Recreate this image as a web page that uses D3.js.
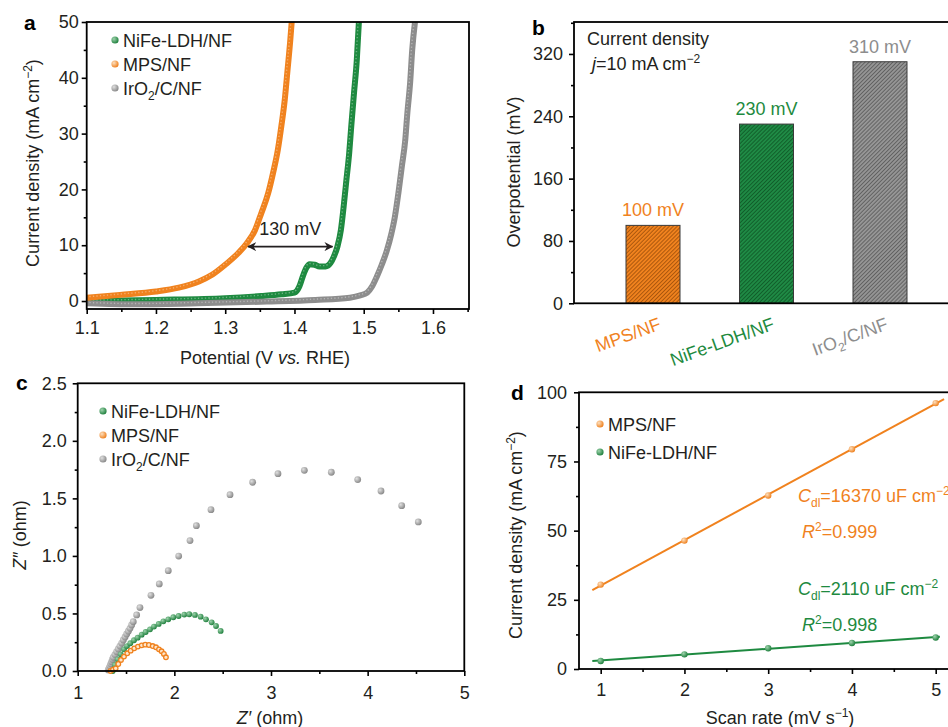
<!DOCTYPE html>
<html>
<head>
<meta charset="utf-8">
<script src="https://cdn.jsdelivr.net/npm/d3@7"></script>
<style>
body { margin: 0; background: #fff; }
svg text { font-family: Arial, "Liberation Sans", sans-serif; fill: #231f20; }
</style>
</head>
<body>
<div id="chart"></div>
<script>
var orange = "#f0821e", green = "#1e8a40", grey = "#8d8d8d";
var fs = "18px", fsSmall = "12px";

// ---- panel a : polarization curves (V vs RHE, mA cm-2)
var mpsLsvV = [1.100, 1.148, 1.200, 1.233, 1.262, 1.281, 1.300, 1.319, 1.331, 1.343, 1.352, 1.362, 1.369, 1.376, 1.381, 1.386, 1.390, 1.394, 1.396];
var mpsLsvJ = [0.6, 1.1, 1.7, 2.4, 3.5, 4.7, 6.5, 8.6, 10.3, 12.7, 15.7, 19.3, 22.9, 27.1, 31.3, 36.1, 41.4, 46.8, 50];
var nifeLsvV = [1.100, 1.200, 1.300, 1.352, 1.381, 1.400, 1.407, 1.412, 1.417, 1.422, 1.429, 1.436, 1.445, 1.452, 1.457, 1.462, 1.467, 1.471, 1.475, 1.479, 1.482, 1.486, 1.490, 1.493];
var nifeLsvJ = [0.0, 0.2, 0.5, 0.9, 1.2, 1.5, 2.6, 4.4, 5.9, 6.6, 6.5, 6.2, 6.2, 6.8, 8.0, 9.75, 12.7, 16.9, 21.7, 26.5, 31.3, 37.3, 43.2, 50];
var iroLsvV = [1.100, 1.170, 1.260, 1.360, 1.430, 1.480, 1.495, 1.505, 1.512, 1.519, 1.526, 1.533, 1.540, 1.545, 1.550, 1.555, 1.560, 1.563, 1.567, 1.570, 1.574];
var iroLsvJ = [-0.4, -0.6, -0.4, -0.1, 0.2, 0.6, 1.0, 1.5, 2.6, 4.4, 6.5, 8.9, 12.1, 15.1, 19.3, 24.1, 28.9, 33.7, 39.1, 45.0, 50];
var gapV = [1.333, 1.455], gapJ = 9.75, gapLabel = "130 mV";

// ---- panel b : overpotential at 10 mA cm-2
var catalysts = ["MPS/NF", "NiFe-LDH/NF", "IrO2/C/NF"];
var overpotential = [100, 230, 310];

// ---- panel c : Nyquist plots (ohm)
var iroZre = [1.316, 1.325, 1.334, 1.342, 1.351, 1.360, 1.368, 1.385, 1.403, 1.420, 1.437, 1.455, 1.472, 1.490, 1.507, 1.524, 1.541, 1.558, 1.575, 1.610, 1.644, 1.758, 1.844, 1.937, 2.045, 2.162, 2.228, 2.379, 2.576, 2.810, 3.072, 3.345, 3.624, 3.897, 4.138, 4.352, 4.524];
var iroZim = [0.009, 0.025, 0.043, 0.062, 0.081, 0.100, 0.119, 0.143, 0.168, 0.192, 0.217, 0.243, 0.270, 0.296, 0.322, 0.346, 0.371, 0.400, 0.429, 0.487, 0.551, 0.658, 0.757, 0.872, 0.999, 1.133, 1.263, 1.402, 1.532, 1.640, 1.715, 1.744, 1.727, 1.663, 1.564, 1.437, 1.295];
var nifeZre = [1.362, 1.386, 1.414, 1.445, 1.479, 1.510, 1.544, 1.582, 1.620, 1.662, 1.703, 1.748, 1.789, 1.838, 1.886, 1.937, 1.989, 2.044, 2.103, 2.154, 2.213, 2.272, 2.327, 2.386, 2.431, 2.479];
var nifeZim = [0.000, 0.052, 0.101, 0.145, 0.188, 0.217, 0.241, 0.267, 0.290, 0.316, 0.339, 0.362, 0.386, 0.409, 0.432, 0.449, 0.467, 0.478, 0.490, 0.493, 0.487, 0.472, 0.449, 0.423, 0.391, 0.348];
var mpsZre = [1.340, 1.365, 1.393, 1.420, 1.448, 1.479, 1.513, 1.548, 1.585, 1.623, 1.662, 1.699, 1.737, 1.776, 1.810, 1.841, 1.868, 1.892, 1.913];
var mpsZim = [0.000, 0.012, 0.023, 0.061, 0.096, 0.125, 0.154, 0.177, 0.197, 0.212, 0.223, 0.229, 0.226, 0.217, 0.206, 0.188, 0.171, 0.148, 0.119];

// ---- panel d : double layer capacitance
var scanRate = [1, 2, 3, 4, 5];
var mpsCdlJ = [30.5, 46.4, 62.7, 79.4, 96.1];
var nifeCdlJ = [2.9, 5.3, 7.5, 9.4, 11.4];

var svg = d3.select("#chart").append("svg")
    .attr("width", 948)
    .attr("height", 727);
var defs = svg.append("defs");

// sphere-like marker fills
function sphere(id, light, base) {
    var gr = defs.append("radialGradient").attr("id", id)
        .attr("cx", "35%").attr("cy", "35%").attr("r", "70%");
    gr.append("stop").attr("offset", "0%").attr("stop-color", light);
    gr.append("stop").attr("offset", "100%").attr("stop-color", base);
}
sphere("sph_grey", "#e0e0e0", "#858585");
sphere("sph_green", "#9fd3ad", "#1a7d39");
sphere("sph_orange", "#fde0bf", "#ee7d18");

// hatched bar fills
function hatch(id, base, lineCol) {
    var p = defs.append("pattern").attr("id", id)
        .attr("patternUnits", "userSpaceOnUse")
        .attr("width", 2.8).attr("height", 2.8)
        .attr("patternTransform", "rotate(45)");
    p.append("rect").attr("width", 2.8).attr("height", 2.8).attr("fill", base);
    p.append("line").attr("x1", 0).attr("y1", 0).attr("x2", 0).attr("y2", 2.8)
        .attr("stroke", lineCol).attr("stroke-width", 1.3);
}
hatch("hatch_orange", "#f0821e", "#8a4205");
hatch("hatch_green", "#1f8a45", "#0a4a1d");
hatch("hatch_grey", "#959595", "#4a4a4a");

defs.append("marker").attr("id", "arrow")
    .attr("viewBox", "0 0 10 10").attr("refX", 9).attr("refY", 5)
    .attr("markerWidth", 9).attr("markerHeight", 9)
    .attr("markerUnits", "userSpaceOnUse")
    .attr("orient", "auto-start-reverse")
  .append("path").attr("d", "M0,0 L10,5 L0,10 L3,5 Z").attr("fill", "#231f20");

// axis helper: major ticks with labels + minor ticks, outward
function addAxis(axisFn, scale, major, minor, fmt, transform, pad) {
    var a = svg.append("g").attr("transform", transform)
        .call(axisFn(scale).tickValues(major).tickFormat(fmt).tickSize(5).tickSizeOuter(0).tickPadding(pad));
    a.select(".domain").remove();
    a.selectAll("text").style("font-size", fs);
    a.selectAll("line").attr("stroke", "#000").attr("stroke-width", 1.6);
    var m = svg.append("g").attr("transform", transform)
        .call(axisFn(scale).tickValues(minor).tickFormat("").tickSize(3).tickSizeOuter(0));
    m.select(".domain").remove();
    m.selectAll("line").attr("stroke", "#000").attr("stroke-width", 1.6);
}

function frame(l, t, r, b) {
    svg.append("rect").attr("x", l).attr("y", t).attr("width", r - l).attr("height", b - t)
        .attr("fill", "none").attr("stroke", "#000").attr("stroke-width", 1.8);
}

function panelLetter(txt, x, y) {
    svg.append("text").attr("x", x).attr("y", y).text(txt)
        .style("font-size", "21px").style("font-weight", "bold").style("fill", "#000");
}

// writes "IrO2/C/NF" with a subscript 2, otherwise plain text
function catText(t, label) {
    if (label === "IrO2/C/NF") {
        t.append("tspan").text("IrO");
        t.append("tspan").attr("dy", 5).style("font-size", fsSmall).text("2");
        t.append("tspan").attr("dy", -5).text("/C/NF");
    } else {
        t.text(label);
    }
}

function legendItem(x, y, fill, label) {
    svg.append("circle").attr("cx", x).attr("cy", y).attr("r", 3.6).attr("fill", fill);
    var t = svg.append("text").attr("x", x + 8).attr("y", y + 6.5).style("font-size", fs);
    catText(t, label);
}

// ================= panel a =================
var aL = 86.7, aR = 469, aT = 22, aB = 309;
var xa = d3.scaleLinear().domain([1.1, 1.652]).range([aL, aR]);
var ya = d3.scaleLinear().domain([-1.43, 50]).range([aB, aT]);

defs.append("clipPath").attr("id", "clip_a")
  .append("rect").attr("x", aL).attr("y", aT).attr("width", aR - aL).attr("height", aB - aT);

var lineA = d3.line().x(function(d) { return xa(d[0]); }).y(function(d) { return ya(d[1]); })
    .curve(d3.curveMonotoneX);
var curvesA = [
    {v: nifeLsvV, j: nifeLsvJ, c: green},
    {v: iroLsvV, j: iroLsvJ, c: grey},
    {v: mpsLsvV, j: mpsLsvJ, c: orange}
];
var ga = svg.append("g").attr("clip-path", "url(#clip_a)");
curvesA.forEach(function(s) {
    var pts = d3.zip(s.v, s.j);
    ga.append("path").datum(pts).attr("d", lineA)
        .attr("fill", "none").attr("stroke", s.c).attr("stroke-width", 6)
        .attr("stroke-linecap", "round").attr("stroke-linejoin", "round");
    ga.append("path").datum(pts).attr("d", lineA)
        .attr("fill", "none").attr("stroke", "#fff").attr("stroke-opacity", 0.35)
        .attr("stroke-width", 1.4).attr("stroke-dasharray", "1.3,2.2")
        .attr("transform", "translate(-0.8,-0.8)");
});

svg.append("line")
    .attr("x1", xa(gapV[0])).attr("x2", xa(gapV[1]))
    .attr("y1", ya(gapJ)).attr("y2", ya(gapJ))
    .attr("stroke", "#231f20").attr("stroke-width", 1.6)
    .attr("marker-start", "url(#arrow)").attr("marker-end", "url(#arrow)");
svg.append("text").attr("x", xa((gapV[0] + gapV[1]) / 2)).attr("y", ya(13) + 6.5)
    .attr("text-anchor", "middle").style("font-size", fs)
    .text(gapLabel);

frame(aL, aT, aR, aB);
addAxis(d3.axisBottom, xa, [1.1, 1.2, 1.3, 1.4, 1.5, 1.6], [1.15, 1.25, 1.35, 1.45, 1.55, 1.65], d3.format(".1f"), "translate(0," + aB + ")", 7);
addAxis(d3.axisLeft, ya, [0, 10, 20, 30, 40, 50], [5, 15, 25, 35, 45], d3.format("d"), "translate(" + aL + ",0)", 3);

legendItem(115, 40, "url(#sph_green)", "NiFe-LDH/NF");
legendItem(115, 64, "url(#sph_orange)", "MPS/NF");
legendItem(115, 88, "url(#sph_grey)", "IrO2/C/NF");

var tya = svg.append("text").attr("transform", "translate(38.5,163) rotate(-90)")
    .attr("text-anchor", "middle").style("font-size", fs);
tya.append("tspan").text("Current density (mA cm");
tya.append("tspan").attr("dy", -7).style("font-size", fsSmall).text("\u22122");
tya.append("tspan").attr("dy", 7).text(")");
var txa = svg.append("text").attr("x", 265).attr("y", 363.5).attr("text-anchor", "middle").style("font-size", fs);
txa.append("tspan").text("Potential (V ");
txa.append("tspan").style("font-style", "italic").text("vs.");
txa.append("tspan").text(" RHE)");
panelLetter("a", 24, 30);

// ================= panel b =================
var bL = 574, bR = 960, bT = 22, bB = 303.3;
var xb = d3.scalePoint().domain(catalysts).range([653, 880]);
var yb = d3.scaleLinear().domain([0, 361]).range([bB, bT]);
var barFill = ["url(#hatch_orange)", "url(#hatch_green)", "url(#hatch_grey)"];
var barText = [orange, green, grey];
var barW = 54;

svg.selectAll(".bar_b")
    .data(overpotential)
  .enter().append("rect")
    .attr("class", "bar_b")
    .attr("x", function(d, i) { return xb(catalysts[i]) - barW / 2; })
    .attr("y", function(d) { return yb(d); })
    .attr("width", barW)
    .attr("height", function(d) { return bB - yb(d); })
    .attr("fill", function(d, i) { return barFill[i]; })
    .attr("stroke", "#3a3a3a").attr("stroke-width", 1);

svg.selectAll(".val_b")
    .data(overpotential)
  .enter().append("text")
    .attr("x", function(d, i) { return xb(catalysts[i]); })
    .attr("y", function(d) { return yb(d) - 9; })
    .attr("text-anchor", "middle")
    .style("font-size", fs)
    .style("fill", function(d, i) { return barText[i]; })
    .text(function(d) { return d + " mV"; });

catalysts.forEach(function(c, i) {
    var t = svg.append("text")
        .attr("transform", "translate(" + (xb(c) + 9) + ",329) rotate(-20)")
        .attr("text-anchor", "end").style("font-size", fs).style("fill", barText[i]);
    catText(t, c);
});

frame(bL, bT, bR, bB);
addAxis(d3.axisLeft, yb, [0, 80, 160, 240, 320], [40, 120, 200, 280, 360], d3.format("d"), "translate(" + bL + ",0)", 6);

svg.append("text").attr("x", 587).attr("y", 44.5).style("font-size", fs).text("Current density");
var tj = svg.append("text").attr("x", 592).attr("y", 69.5).style("font-size", fs);
tj.append("tspan").style("font-style", "italic").text("j");
tj.append("tspan").text("=10 mA cm");
tj.append("tspan").attr("dy", -7).style("font-size", fsSmall).text("\u22122");
svg.append("text").attr("transform", "translate(519.5,172) rotate(-90)")
    .attr("text-anchor", "middle").style("font-size", fs).text("Overpotential (mV)");
panelLetter("b", 532, 35);

// ================= panel c =================
var cL = 77.7, cR = 464.3, cT = 383.3, cB = 671;
var xc = d3.scaleLinear().domain([1, 5]).range([cL, cR]);
var yc = d3.scaleLinear().domain([0, 2.5]).range([cB, cT]);

var seriesC = [
    {x: iroZre, y: iroZim, fill: "url(#sph_grey)", r: 3.4, stroke: "none"},
    {x: nifeZre, y: nifeZim, fill: "url(#sph_green)", r: 2.9, stroke: "none"},
    {x: mpsZre, y: mpsZim, fill: "#fde6cc", r: 2.3, stroke: orange}
];
seriesC.forEach(function(s, k) {
    svg.selectAll(".pt_c" + k)
        .data(d3.zip(s.x, s.y))
      .enter().append("circle")
        .attr("class", "pt_c" + k)
        .attr("cx", function(d) { return xc(d[0]); })
        .attr("cy", function(d) { return yc(d[1]); })
        .attr("r", s.r)
        .attr("fill", s.fill)
        .attr("stroke", s.stroke).attr("stroke-width", 1.3);
});

frame(cL, cT, cR, cB);
addAxis(d3.axisBottom, xc, [1, 2, 3, 4, 5], [1.5, 2.5, 3.5, 4.5], d3.format("d"), "translate(0," + cB + ")", 10);
addAxis(d3.axisLeft, yc, [0, 0.5, 1, 1.5, 2, 2.5], [0.25, 0.75, 1.25, 1.75, 2.25], d3.format(".1f"), "translate(" + cL + ",0)", 6);

legendItem(103, 411, "url(#sph_green)", "NiFe-LDH/NF");
legendItem(103, 435, "url(#sph_orange)", "MPS/NF");
legendItem(103, 459, "url(#sph_grey)", "IrO2/C/NF");

var tyc = svg.append("text").attr("transform", "translate(25.5,535) rotate(-90)")
    .attr("text-anchor", "middle").style("font-size", fs);
tyc.append("tspan").style("font-style", "italic").text("Z\u2033");
tyc.append("tspan").text(" (ohm)");
var txc = svg.append("text").attr("x", 270).attr("y", 723.5).attr("text-anchor", "middle").style("font-size", fs);
txc.append("tspan").style("font-style", "italic").text("Z\u2032");
txc.append("tspan").text(" (ohm)");
panelLetter("c", 16, 390);

// ================= panel d =================
var dL = 579, dR = 960, dT = 392.3, dB = 669;
var xd = d3.scaleLinear().domain([0.741, 5.244]).range([dL, dL + (5.244 - 0.741) * 83.75]);
var yd = d3.scaleLinear().domain([0, 100]).range([dB, dT]);

defs.append("clipPath").attr("id", "clip_d")
  .append("rect").attr("x", dL).attr("y", dT).attr("width", dR - dL).attr("height", dB - dT);

function linFit(xs, ys) {
    var mx = d3.mean(xs), my = d3.mean(ys);
    var sxy = d3.sum(xs, function(x, i) { return (x - mx) * (ys[i] - my); });
    var sxx = d3.sum(xs, function(x) { return (x - mx) * (x - mx); });
    var k = sxy / sxx;
    return {k: k, b: my - k * mx};
}

var seriesD = [
    {y: mpsCdlJ, c: orange, fill: "url(#sph_orange)", x0: 0.9, x1: 5.1},
    {y: nifeCdlJ, c: green, fill: "url(#sph_green)", x0: 0.9, x1: 5.05}
];
var gd = svg.append("g").attr("clip-path", "url(#clip_d)");
seriesD.forEach(function(s, k) {
    var f = linFit(scanRate, s.y);
    gd.append("line")
        .attr("x1", xd(s.x0)).attr("y1", yd(f.k * s.x0 + f.b))
        .attr("x2", xd(s.x1)).attr("y2", yd(f.k * s.x1 + f.b))
        .attr("stroke", s.c).attr("stroke-width", 2);
    gd.selectAll(".pt_d" + k)
        .data(scanRate)
      .enter().append("circle")
        .attr("class", "pt_d" + k)
        .attr("cx", function(d) { return xd(d); })
        .attr("cy", function(d, i) { return yd(s.y[i]); })
        .attr("r", 3.2)
        .attr("fill", s.fill);
});

frame(dL, dT, dR, dB);
addAxis(d3.axisBottom, xd, [1, 2, 3, 4, 5], [1.5, 2.5, 3.5, 4.5], d3.format("d"), "translate(0," + dB + ")", 9);
addAxis(d3.axisLeft, yd, [0, 25, 50, 75, 100], [12.5, 37.5, 62.5, 87.5], d3.format("d"), "translate(" + dL + ",0)", 7);

legendItem(600, 424, "url(#sph_orange)", "MPS/NF");
legendItem(600, 452, "url(#sph_green)", "NiFe-LDH/NF");

function cdlLabel(x, y, val, col) {
    var t = svg.append("text").attr("x", x).attr("y", y).style("font-size", fs).style("fill", col);
    t.append("tspan").style("font-style", "italic").text("C");
    t.append("tspan").attr("dy", 5).style("font-size", fsSmall).text("dl");
    t.append("tspan").attr("dy", -5).text("=" + val + " uF cm");
    t.append("tspan").attr("dy", -7).style("font-size", fsSmall).text("\u22122");
}
function r2Label(x, y, val, col) {
    var t = svg.append("text").attr("x", x).attr("y", y).style("font-size", fs).style("fill", col);
    t.append("tspan").style("font-style", "italic").text("R");
    t.append("tspan").attr("dy", -7).style("font-size", fsSmall).text("2");
    t.append("tspan").attr("dy", 7).text("=" + val);
}
cdlLabel(798, 501.5, 16370, orange);
r2Label(802, 537.5, "0.999", orange);
cdlLabel(798, 594.5, 2110, green);
r2Label(802, 630.5, "0.998", green);

var tyd = svg.append("text").attr("transform", "translate(521.5,535) rotate(-90)")
    .attr("text-anchor", "middle").style("font-size", fs);
tyd.append("tspan").text("Current density (mA cm");
tyd.append("tspan").attr("dy", -7).style("font-size", fsSmall).text("\u22122");
tyd.append("tspan").attr("dy", 7).text(")");
var txd = svg.append("text").attr("x", 780).attr("y", 723.5).attr("text-anchor", "middle").style("font-size", fs);
txd.append("tspan").text("Scan rate (mV s");
txd.append("tspan").attr("dy", -7).style("font-size", fsSmall).text("\u22121");
txd.append("tspan").attr("dy", 7).text(")");
panelLetter("d", 511, 400);
</script>
</body>
</html>
